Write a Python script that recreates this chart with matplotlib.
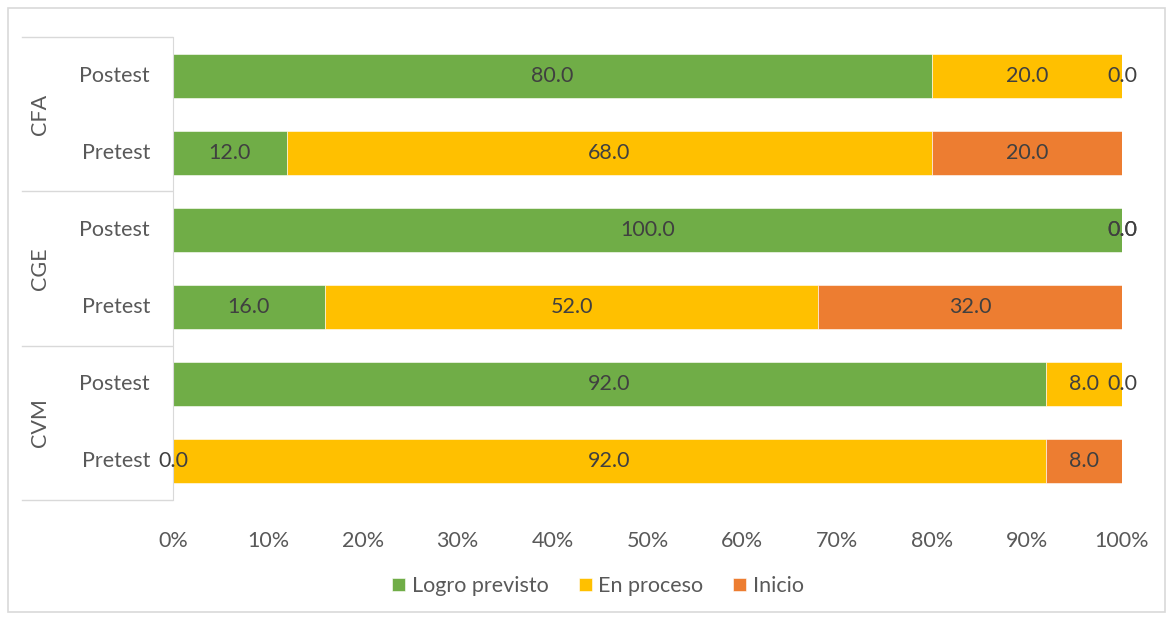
import numpy as np
import matplotlib.pyplot as plt
from matplotlib.lines import Line2D
from matplotlib.patches import Rectangle

plt.rcParams['font.family'] = ['Lato', 'DejaVu Sans']

groups = ['CFA', 'CGE', 'CVM']
tests = ['Postest', 'Pretest']
series = ['Logro previsto', 'En proceso', 'Inicio']
colors = ['#70AD47', '#FFC000', '#ED7D31']

# rows top to bottom: CFA Postest, CFA Pretest, CGE Postest, CGE Pretest, CVM Postest, CVM Pretest
logro = [80.0, 12.0, 100.0, 16.0, 92.0, 0.0]
proceso = [20.0, 68.0, 0.0, 52.0, 8.0, 92.0]
inicio = [0.0, 20.0, 0.0, 32.0, 0.0, 8.0]
xticks = [0, 10, 20, 30, 40, 50, 60, 70, 80, 90, 100]

W, H = 1169, 617
fig = plt.figure(figsize=(W / 100, H / 100), dpi=100)
fs = 15.5

def fx(px):
    return px / W

def fy(py):
    return 1 - py / H

ax = fig.add_axes([fx(173), fy(500), fx(1122) - fx(173), fy(37) - fy(500)])

y = np.arange(len(logro))
left = np.zeros(len(logro))
for vals, name, c in zip([logro, proceso, inicio], series, colors):
    vals = np.array(vals)
    bars = ax.barh(y, vals, left=left, height=0.57, color=c, label=name,
                   edgecolor='white', linewidth=0.4)
    ax.bar_label(bars, labels=['%.1f' % v for v in vals], label_type='center',
                 color='#404040', fontsize=fs)
    left = left + vals

ax.set_xlim(0, 100)
ax.set_ylim(len(logro) - 0.5, -0.5)
ax.set_xticks(xticks)
ax.set_xticklabels(['%d%%' % t for t in xticks], color='#595959', fontsize=fs)
ax.tick_params(axis='x', length=0, pad=22)
ax.set_yticks([])
for s in ['top', 'right', 'bottom']:
    ax.spines[s].set_visible(False)
ax.spines['left'].set_color('#D9D9D9')

# multi-level category labels
row_h = (500 - 37) / len(logro)
for i in range(len(logro)):
    yc = 37 + row_h * (i + 0.5)
    fig.text(fx(150), fy(yc), tests[i % 2], ha='right', va='center',
             color='#595959', fontsize=fs)
for g, name in enumerate(groups):
    yc = 37 + row_h * (2 * g + 1)
    fig.text(fx(40), fy(yc), name, ha='center', va='center', rotation=90,
             color='#595959', fontsize=fs)
for g in range(len(groups) + 1):
    yl = 37 + row_h * 2 * g
    fig.add_artist(Line2D([fx(22), fx(172)], [fy(yl), fy(yl)], color='#D9D9D9', lw=1))

fig.legend(loc='center', bbox_to_anchor=(fx(598), fy(586)), ncol=3, frameon=False,
           fontsize=fs, handlelength=0.6, handleheight=0.6, handletextpad=0.3,
           columnspacing=1.4, labelcolor='#595959')

fig.add_artist(Rectangle((fx(8), fy(612)), fx(1157), fy(8) - fy(612), fill=False,
                         edgecolor='#D9D9D9', lw=1.2, transform=fig.transFigure))

fig.savefig('out.png', dpi=100)
